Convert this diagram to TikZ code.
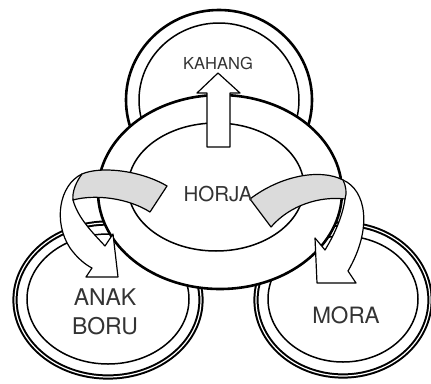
\documentclass[tikz,border=0pt]{standalone}
\usepackage{fontspec}
\setmainfont{TeX Gyre Heros}
\usetikzlibrary{positioning}
\begin{document}
\begin{tikzpicture}[
    x=1pt, y=-1pt,
    outer/.style={draw, line width=2.6pt, fill=white},
    outerdbl/.style={draw, line width=2pt, double=white, double distance=1.2pt, fill=white},
    inner/.style={draw, line width=1.5pt},
    ribbon/.style={draw, line width=1.2pt, fill=white, line join=round},
    fold/.style={draw, line width=1.2pt, fill=black!14, line join=round},
    lbl/.style={text=black!80, inner sep=0pt, align=center}
    ]
    \useasboundingbox (0,0) rectangle (431,383);

    % kahang ring, behind everything
    \path[outer] (219,100) ellipse [x radius=93pt, y radius=90pt];
    \path[inner] (219,100) ellipse [x radius=80pt, y radius=77pt];

    % anak boru and mora rings
    \path[outerdbl] (108,300) ellipse [x radius=93pt, y radius=77pt];
    \path[inner] (108,299) ellipse [x radius=81pt, y radius=65pt];
    \path[outerdbl] (343,300) ellipse [x radius=87pt, y radius=76pt];
    \path[inner] (343,299) ellipse [x radius=75pt, y radius=63pt];

    % horja ring on top
    \path[outer] (220,192) ellipse [x radius=122pt, y radius=97pt];
    \path[inner] (216,187) ellipse [x radius=88pt, y radius=64pt];

    % arrow up to kahang
    \path[ribbon] (207,147) -- (207,93) -- (197,93) -- (218,73) -- (240,93)
        -- (230,93) -- (230,147) -- cycle;

    % ribbon down to anak boru
    \path[ribbon] (82,174) .. controls (59,185) and (53,222) .. (70,248)
        .. controls (78,259) and (86,265) .. (92,268) -- (86,277) -- (118,277)
        -- (113,234) -- (105,246) .. controls (92,232) and (78,218) .. (73,200) -- cycle;
    \path[fold] (167,186) .. controls (140,170) and (100,166) .. (82,174)
        .. controls (76,182) and (72,192) .. (73,200)
        .. controls (95,194) and (128,198) .. (150,212) -- cycle;

    % ribbon down to mora
    \path[ribbon] (343,180) .. controls (366,190) and (373,228) .. (348,271)
        -- (356,283) -- (317,283) -- (315,238) -- (325,250)
        .. controls (336,232) and (343,214) .. (345,199) -- cycle;
    \path[fold] (250,199) .. controls (280,176) and (320,168) .. (343,180)
        .. controls (346,186) and (347,193) .. (345,199)
        .. controls (320,196) and (290,205) .. (271,227) -- cycle;

    % labels
    \node[lbl, font=\fontsize{16.5}{20}\selectfont] (kahang) at (218,63) {KAHANG};
    \node[lbl, font=\fontsize{20.5}{24}\selectfont] (horja) at (218,194) {HORJA};
    \node[lbl, font=\fontsize{23}{29}\selectfont] (anakboru) at (105,312) {ANAK\\BORU};
    \node[lbl, font=\fontsize{22.5}{27}\selectfont] (mora) at (346,315) {MORA};
\end{tikzpicture}
\end{document}
